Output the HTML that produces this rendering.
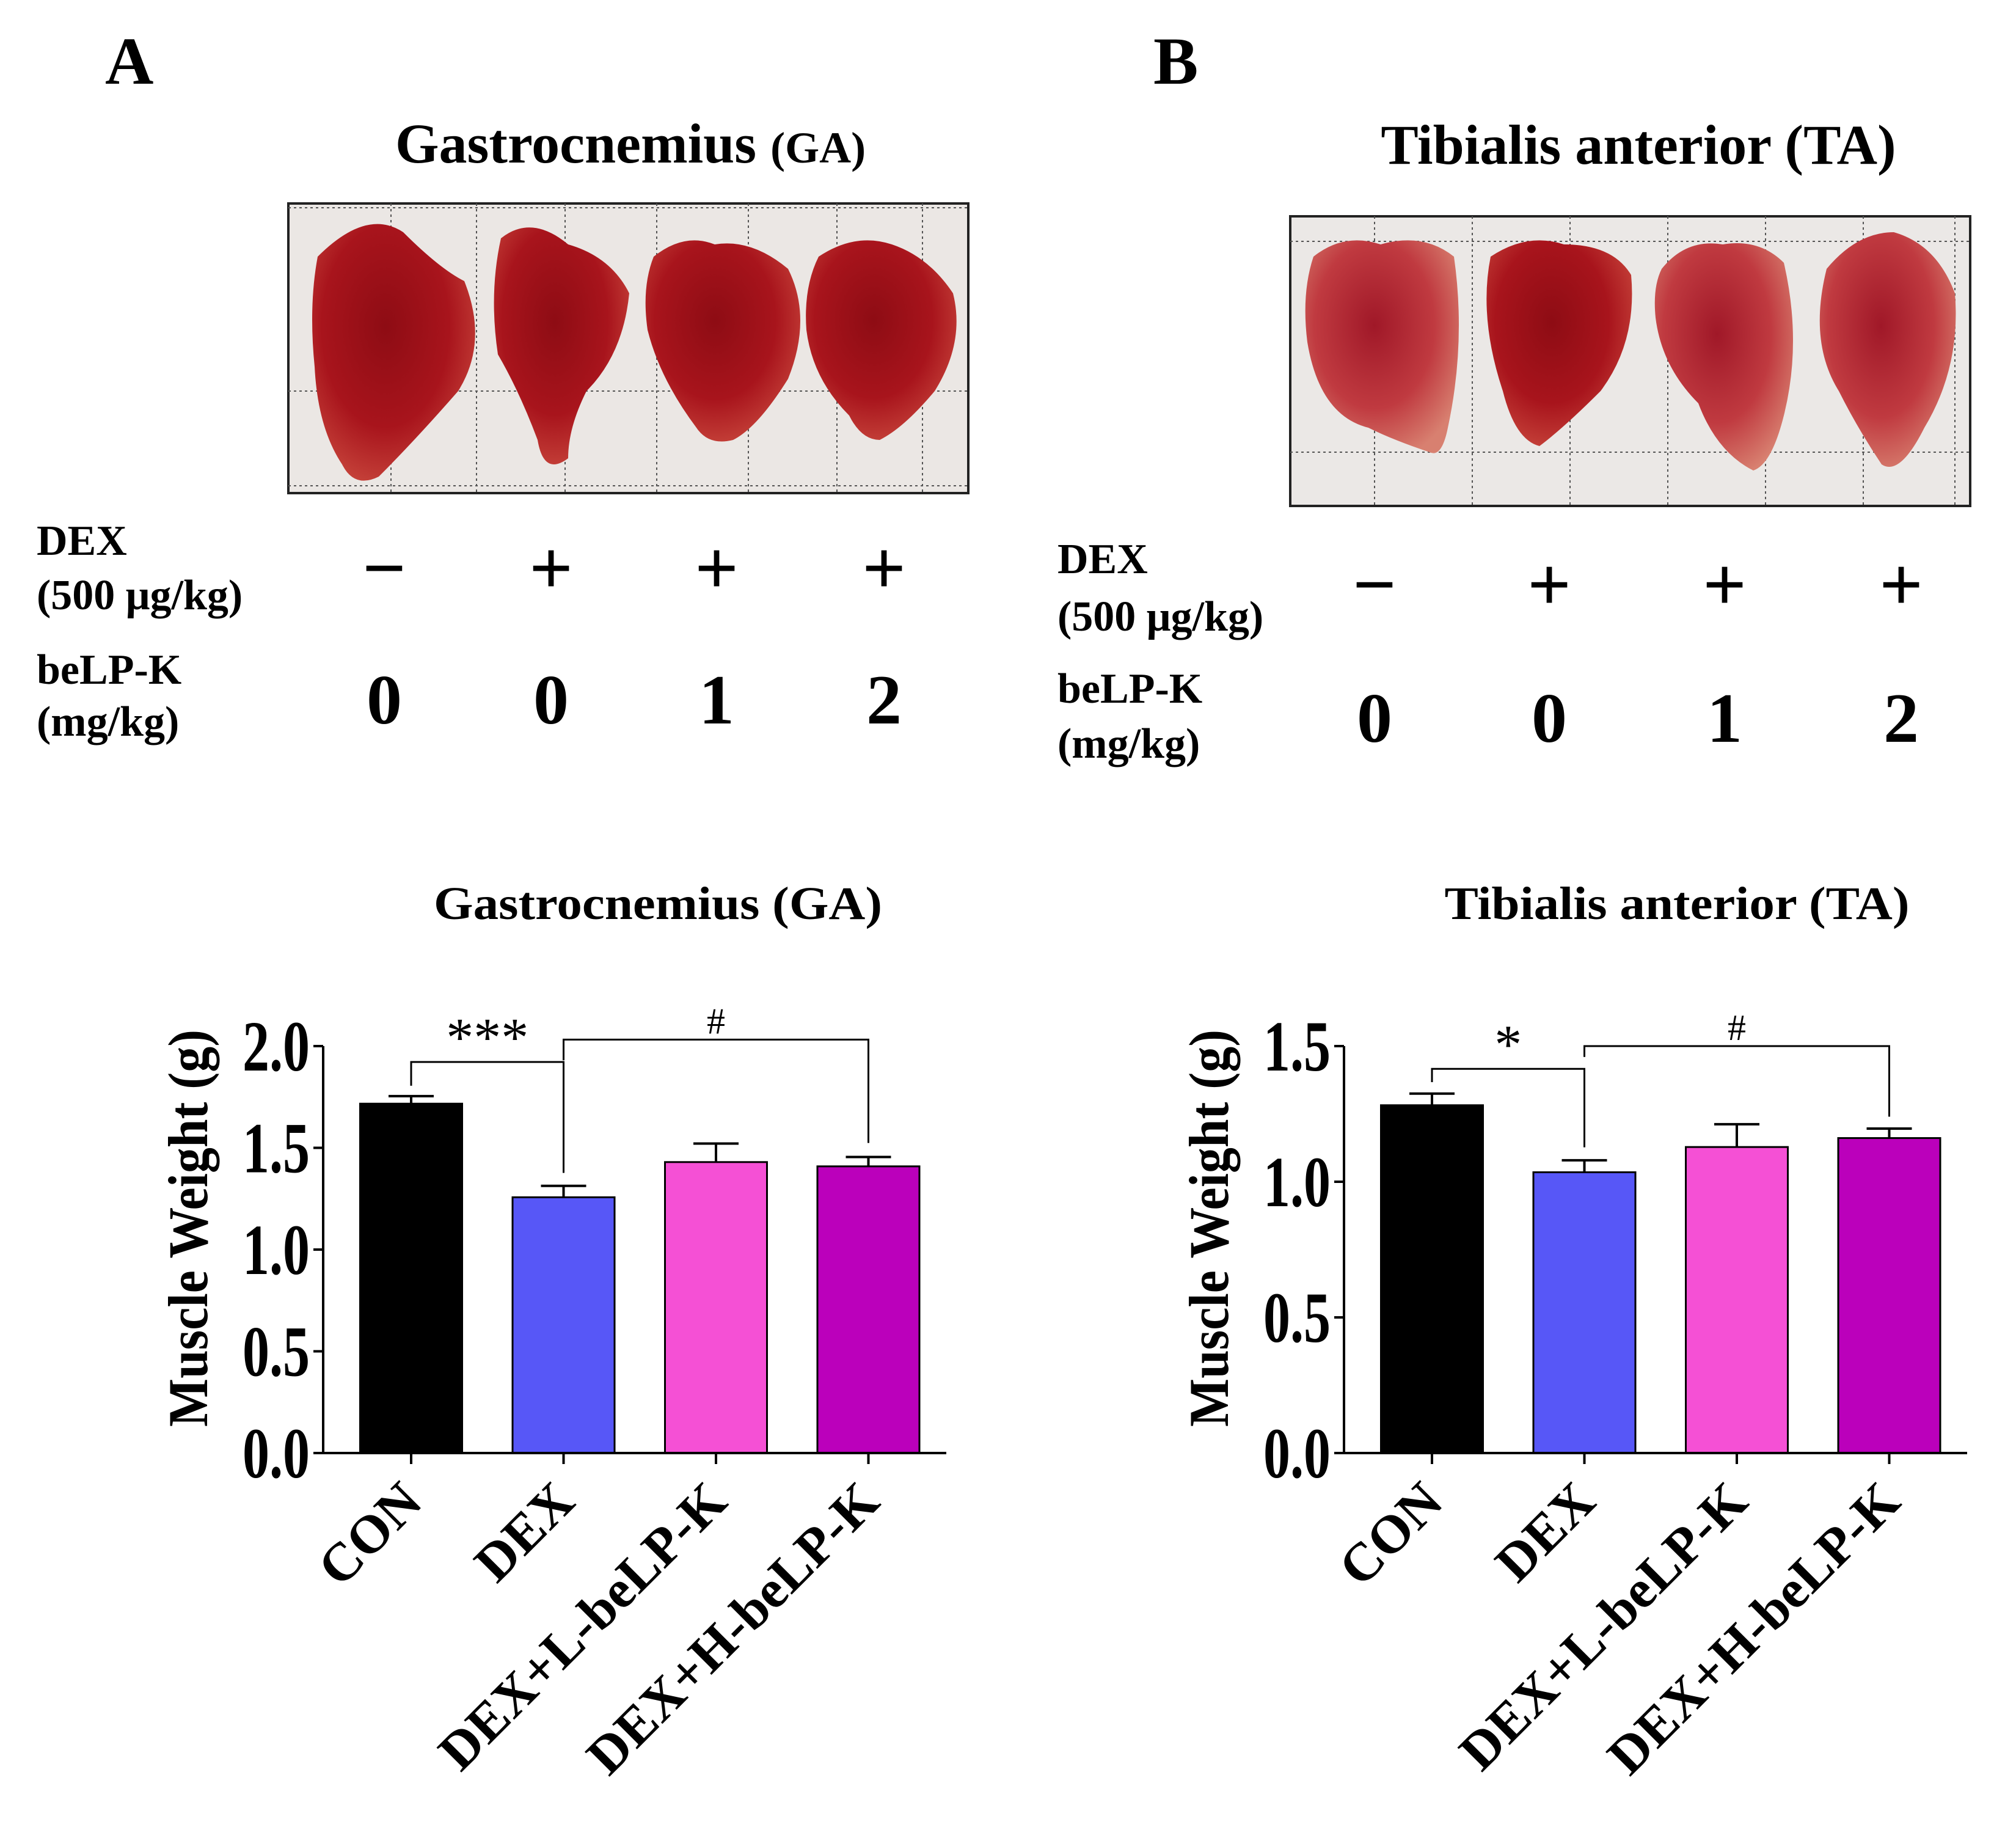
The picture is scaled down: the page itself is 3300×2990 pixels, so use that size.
<!DOCTYPE html>
<html><head><meta charset="utf-8"><style>
html,body{margin:0;padding:0;background:#fff;}
svg{display:block;}
text{font-family:"Liberation Serif",serif;font-weight:bold;fill:#000;}
</style></head><body>
<svg id="fig" width="3300" height="2990" viewBox="0 0 3300 2990" xmlns="http://www.w3.org/2000/svg">
<defs>
<radialGradient id="meat" cx="45%" cy="40%" r="65%">
<stop offset="0" stop-color="#8e0c14"/><stop offset="0.6" stop-color="#a8141c"/><stop offset="1" stop-color="#c8463c"/>
</radialGradient>
<radialGradient id="meatB" cx="45%" cy="40%" r="65%">
<stop offset="0" stop-color="#a01828"/><stop offset="0.6" stop-color="#c03a40"/><stop offset="1" stop-color="#d88070"/>
</radialGradient>
</defs>

<!-- Panel A header -->
<text x="172" y="137" font-size="110">A</text>
<text x="1032" y="266" font-size="92" text-anchor="middle">Gastrocnemius <tspan font-size="72">(GA)</tspan></text>
<g>
<rect x="472" y="333" width="1113" height="474" fill="#ebe7e4" stroke="#222" stroke-width="4"/>
<g stroke="#555" stroke-width="2" stroke-dasharray="4 5">
<line x1="472" y1="340" x2="1585" y2="340"/><line x1="472" y1="795" x2="1585" y2="795"/><line x1="472" y1="640" x2="1585" y2="640"/>
<line x1="640" y1="333" x2="640" y2="807"/><line x1="780" y1="333" x2="780" y2="807"/><line x1="925" y1="333" x2="925" y2="807"/><line x1="1075" y1="333" x2="1075" y2="807"/><line x1="1225" y1="333" x2="1225" y2="807"/><line x1="1370" y1="333" x2="1370" y2="807"/><line x1="1510" y1="333" x2="1510" y2="807"/>
</g>
<path d="M520 420 Q600 340 660 380 Q720 440 760 460 Q800 560 750 640 Q680 720 620 780 Q580 800 560 760 Q520 700 515 600 Q505 500 520 420Z" fill="url(#meat)"/>
<path d="M820 390 Q870 350 930 400 Q1000 420 1030 480 Q1020 580 960 640 Q930 700 930 750 Q890 780 880 720 Q850 640 815 580 Q800 480 820 390Z" fill="url(#meat)"/>
<path d="M1070 420 Q1120 380 1170 400 Q1230 390 1290 440 Q1330 520 1290 620 Q1240 700 1200 720 Q1160 730 1140 700 Q1080 620 1060 540 Q1050 470 1070 420Z" fill="url(#meat)"/>
<path d="M1340 420 Q1400 380 1460 400 Q1520 420 1560 480 Q1580 560 1530 640 Q1480 700 1440 720 Q1410 720 1390 680 Q1330 620 1320 540 Q1315 470 1340 420Z" fill="url(#meat)"/>
</g>
<g>
<text x="60" y="908" font-size="70">DEX</text>
<text x="60" y="997" font-size="70">(500 μg/kg)</text>
<text x="60" y="1119" font-size="70">beLP-K</text>
<text x="60" y="1204" font-size="70">(mg/kg)</text>
<g text-anchor="middle">
<text x="629" y="972" font-size="126">−</text><text x="902" y="972" font-size="126">+</text><text x="1173" y="972" font-size="126">+</text><text x="1447" y="972" font-size="126">+</text>
<text x="629" y="1184" font-size="116">0</text><text x="902" y="1184" font-size="116">0</text><text x="1173" y="1184" font-size="116">1</text><text x="1447" y="1184" font-size="116">2</text>
</g>
</g>

<!-- Panel B header -->
<text x="1888" y="137" font-size="110">B</text>
<text x="2682" y="268" font-size="92" text-anchor="middle">Tibialis anterior (TA)</text>
<g>
<rect x="2112" y="354" width="1113" height="474" fill="#ebe8e6" stroke="#222" stroke-width="4"/>
<g stroke="#555" stroke-width="2" stroke-dasharray="4 5">
<line x1="2112" y1="395" x2="3225" y2="395"/><line x1="2112" y1="740" x2="3225" y2="740"/>
<line x1="2250" y1="354" x2="2250" y2="828"/><line x1="2410" y1="354" x2="2410" y2="828"/><line x1="2570" y1="354" x2="2570" y2="828"/><line x1="2730" y1="354" x2="2730" y2="828"/><line x1="2890" y1="354" x2="2890" y2="828"/><line x1="3050" y1="354" x2="3050" y2="828"/><line x1="3200" y1="354" x2="3200" y2="828"/>
</g>
<path d="M2150 420 Q2200 380 2260 400 Q2330 380 2380 420 Q2400 560 2370 700 Q2360 750 2340 740 Q2280 720 2240 700 Q2160 680 2140 560 Q2130 480 2150 420Z" fill="url(#meatB)"/>
<path d="M2440 420 Q2500 380 2560 400 Q2640 400 2670 450 Q2680 560 2620 640 Q2560 700 2520 730 Q2480 720 2460 640 Q2420 520 2440 420Z" fill="url(#meat)"/>
<path d="M2720 440 Q2760 390 2820 400 Q2880 390 2920 430 Q2950 560 2920 680 Q2900 760 2870 770 Q2810 740 2780 660 Q2720 600 2710 520 Q2705 470 2720 440Z" fill="url(#meatB)"/>
<path d="M2990 440 Q3040 380 3100 380 Q3170 400 3200 480 Q3210 600 3150 700 Q3110 780 3080 760 Q3040 700 3010 640 Q2960 560 2990 440Z" fill="url(#meatB)"/>
</g>
<g>
<text x="1731" y="938" font-size="70">DEX</text>
<text x="1731" y="1032" font-size="70">(500 μg/kg)</text>
<text x="1731" y="1150" font-size="70">beLP-K</text>
<text x="1731" y="1240" font-size="70">(mg/kg)</text>
<g text-anchor="middle">
<text x="2250" y="999" font-size="126">−</text><text x="2536" y="999" font-size="126">+</text><text x="2823" y="999" font-size="126">+</text><text x="3112" y="999" font-size="126">+</text>
<text x="2250" y="1214" font-size="116">0</text><text x="2536" y="1214" font-size="116">0</text><text x="2823" y="1214" font-size="116">1</text><text x="3112" y="1214" font-size="116">2</text>
</g>
</g>

<text x="1077" y="1504" font-size="76" text-anchor="middle" textLength="734" lengthAdjust="spacingAndGlyphs">Gastrocnemius (GA)</text>
<text x="2745" y="1504" font-size="76" text-anchor="middle" textLength="761" lengthAdjust="spacingAndGlyphs">Tibialis anterior (TA)</text>
<g id="chartA"></g>
<g id="chartB"></g>
</svg>
<script>
const categories = ["CON", "DEX", "DEX+L-beLP-K", "DEX+H-beLP-K"];
const barColors = ["#000000", "#5757f7", "#f550d5", "#bb00bb"];
const gaMeans = [1.717, 1.257, 1.43, 1.409];
const gaErrors = [0.037, 0.056, 0.091, 0.046];
const gaTicks = ["0.0", "0.5", "1.0", "1.5", "2.0"];
const taMeans = [1.282, 1.035, 1.128, 1.161];
const taErrors = [0.043, 0.044, 0.084, 0.035];
const taTicks = ["0.0", "0.5", "1.0", "1.5"];

const NS = "http://www.w3.org/2000/svg";
function mk(parent, tag, attrs, txt) {
  const e = document.createElementNS(NS, tag);
  for (const k in attrs) e.setAttribute(k, attrs[k]);
  if (txt !== undefined) e.textContent = txt;
  parent.appendChild(e);
  return e;
}

function drawChart(gid, cfg) {
  const g = document.getElementById(gid);
  const top = 1712, bottom = 2378;
  const yMax = cfg.yMax;
  const y = v => bottom - (v / yMax) * (bottom - top);
  const step = 249.5;
  const x = i => cfg.axisX + 144 + i * step;
  const bw = 167;
  let e = mk(g, "line", {x1: cfg.axisX, y1: top, x2: cfg.axisX, y2: bottom, stroke: "#000", "stroke-width": 4});
  
  
  cfg.ticks.forEach(t => {
    const v = parseFloat(t);
    const tk = mk(g, "line", {x1: cfg.axisX - 16, y1: y(v), x2: cfg.axisX, y2: y(v), stroke: "#000", "stroke-width": 4});
    
    
    const tl = mk(g, "text", {x: cfg.axisX - 22, y: y(v) + 40, "font-size": 118, "text-anchor": "end", textLength: 110, lengthAdjust: "spacingAndGlyphs"}, t);
    
    
  });
  const yl = mk(g, "text", {x: 0, y: 0, "font-size": 92, "text-anchor": "middle", textLength: 650, lengthAdjust: "spacingAndGlyphs", transform: `translate(${cfg.axisX - 190},2010) rotate(-90)`}, "Muscle Weight (g)");
  
  
  cfg.means.forEach((m, i) => {
    const cx = x(i);
    const b = mk(g, "rect", {x: cx - bw / 2, y: y(m), width: bw, height: bottom - y(m), fill: barColors[i], stroke: "#000", "stroke-width": 3});
    
    
    const eb = mk(g, "path", {d: `M${cx} ${y(m)} V${y(m + cfg.errs[i])} M${cx - 37} ${y(m + cfg.errs[i])} H${cx + 37}`, stroke: "#000", "stroke-width": 4, fill: "none"});
    
    
    const xt = mk(g, "line", {x1: cx, y1: bottom, x2: cx, y2: bottom + 18, stroke: "#000", "stroke-width": 4});
    
    
    const xl = mk(g, "text", {x: 0, y: 0, "font-size": 88, "text-anchor": "end", transform: `translate(${cx + 22},${bottom + 84}) rotate(-45)`}, categories[i]);
    
    
  });
  e = mk(g, "line", {x1: cfg.axisX - 16, y1: bottom, x2: cfg.axisX + 1020, y2: bottom, stroke: "#000", "stroke-width": 4});
  
  
  cfg.brackets.forEach(br => {
    const x1 = x(br.a), x2 = x(br.b);
    const p = mk(g, "path", {d: `M${x1} ${y(br.la)} V${y(br.h)} H${x2} V${y(br.lb)}`, stroke: "#000", "stroke-width": 3, fill: "none"});
    
    
    const t = mk(g, "text", {x: (x1 + x2) / 2, y: y(br.h) - 10, "font-size": br.fs, "text-anchor": "middle", style: "font-weight:normal"}, br.label);
    
    
  });
}

drawChart("chartA", {axisX: 529, yMax: 2.0, ticks: gaTicks, means: gaMeans, errs: gaErrors,
  brackets: [{a: 0, b: 1, h: 1.922, la: 1.805, lb: 1.377, label: "***", fs: 90},
             {a: 1, b: 3, h: 2.032, la: 1.93, lb: 1.524, label: "#", fs: 60}]});
drawChart("chartB", {axisX: 2200, yMax: 1.5, ticks: taTicks, means: taMeans, errs: taErrors,
  brackets: [{a: 0, b: 1, h: 1.416, la: 1.367, lb: 1.127, label: "*", fs: 90},
             {a: 1, b: 3, h: 1.5, la: 1.46, lb: 1.24, label: "#", fs: 60}]});
</script>
</body></html>
